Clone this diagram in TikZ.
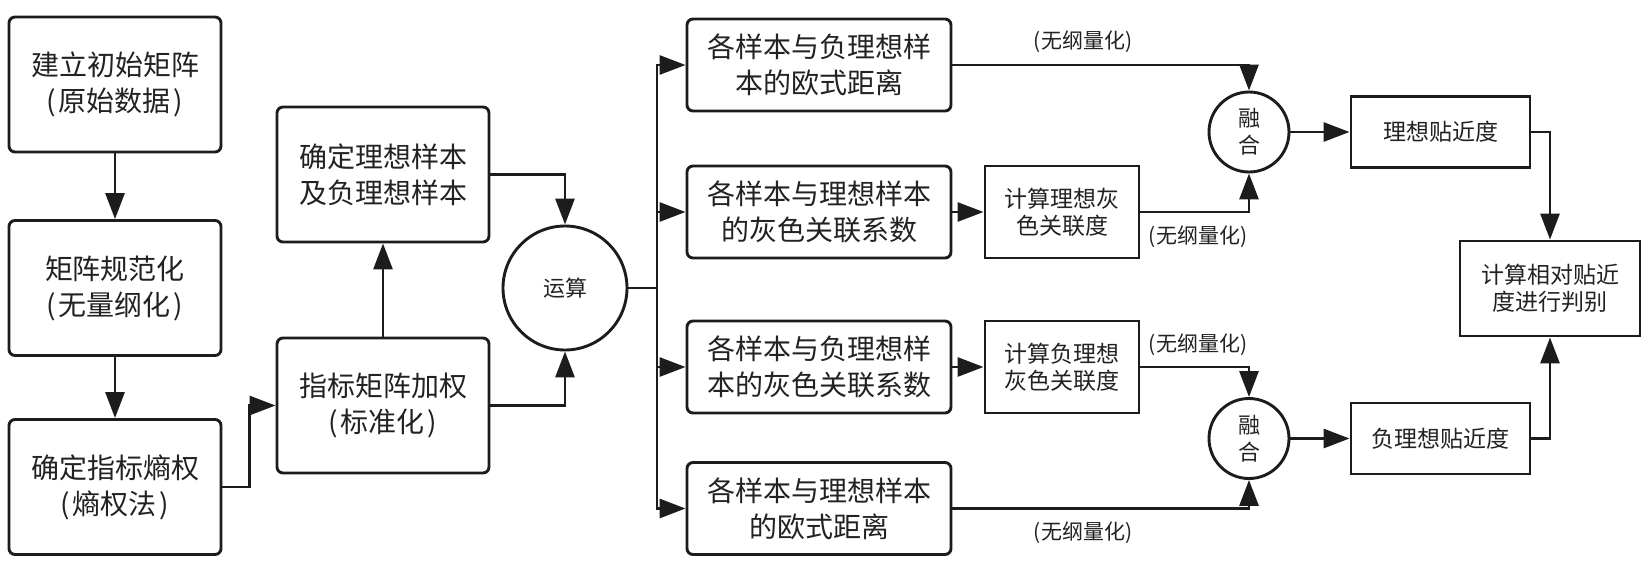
\documentclass[tikz,border=0pt]{standalone}
\usepackage{fontspec}
\setmainfont{Noto Sans CJK SC}
\usetikzlibrary{arrows.meta}
\definecolor{ln}{HTML}{1C1C1C}
\definecolor{txt}{HTML}{222222}
\newcommand{\lp}{(\kern3pt}
\newcommand{\rp}{\kern3pt)}
\begin{document}
\begin{tikzpicture}[x=1pt,y=-1pt,
  bigbox/.style={draw=ln, line width=2.9pt, rounded corners=6pt, minimum width=212pt,
    minimum height=135pt, align=center, inner sep=0pt, text=txt,
    font=\fontsize{28}{36}\selectfont},
  fbox/.style={bigbox, minimum width=264pt, minimum height=92pt},
  sbox/.style={draw=ln, line width=2.9pt, align=center, inner sep=0pt, text=txt,
    font=\fontsize{23}{27}\selectfont},
  circ/.style={circle, draw=ln, line width=2.9pt, inner sep=0pt, align=center, text=txt,
    font=\fontsize{22}{27}\selectfont},
  lbl/.style={text=txt, inner sep=0pt, font=\fontsize{21}{25}\selectfont},
  arr/.style={-{Triangle[length=26pt,width=19pt]}, line width=2.9pt, draw=ln},
  ln/.style={line width=2.9pt, draw=ln}]
\fill[white] (0,0) rectangle (1650,568);
\useasboundingbox (0,0) rectangle (1650,568);

% left column
\node[bigbox] (A) at (115,84.5) {建立初始矩阵\\\lp 原始数据\rp};
\node[bigbox] (B) at (115,288) {矩阵规范化\\\lp 无量纲化\rp};
\node[bigbox] (C) at (115,487) {确定指标熵权\\\lp 熵权法\rp};
\node[bigbox] (D) at (383,174.5) {确定理想样本\\及负理想样本};
\node[bigbox] (E) at (383,405.5) {指标矩阵加权\\\lp 标准化\rp};
\node[circ, minimum size=124pt] (O) at (565,288) {运算};
\coordinate (T) at (657,288);

% F column
\node[fbox] (F1) at (819,65) {各样本与负理想样\\本的欧式距离};
\node[fbox] (F2) at (819,212) {各样本与理想样本\\的灰色关联系数};
\node[fbox] (F3) at (819,367) {各样本与负理想样\\本的灰色关联系数};
\node[fbox] (F4) at (819,508.5) {各样本与理想样本\\的欧式距离};

% G boxes
\node[sbox, minimum width=154pt, minimum height=92pt] (G1) at (1062,212) {计算理想灰\\色关联度};
\node[sbox, minimum width=154pt, minimum height=92pt] (G2) at (1062,367) {计算负理想\\灰色关联度};

% fusion circles
\node[circ, minimum size=80pt] (M1) at (1249,132) {融\\合};
\node[circ, minimum size=80pt] (M2) at (1249,438.5) {融\\合};

% H boxes and J
\node[sbox, minimum width=179pt, minimum height=71pt] (H1) at (1440.5,132) {理想贴近度};
\node[sbox, minimum width=179pt, minimum height=71pt] (H2) at (1440.5,438.5) {负理想贴近度};
\node[sbox, minimum width=180pt, minimum height=95pt] (J) at (1550,288.5) {计算相对贴近\\度进行判别};

% labels
\node[lbl] (L1) at (1083,42) {(无纲量化)};
\node[lbl] (L2) at (1198,237) {(无纲量化)};
\node[lbl] (L3) at (1198,345) {(无纲量化)};
\node[lbl] (L4) at (1083,533) {(无纲量化)};

% connectors
\draw[arr] (A.south) -- (B.north);
\draw[arr] (B.south) -- (C.north);
\draw[arr] (C.east) -- ++(27,0) |- (E.west);
\draw[arr] (E.north) -- (D.south);
\draw[arr] (D.east) -| (O.north);
\draw[arr] (E.east) -| (O.south);
\draw[ln] (O.east) -- (T);
\draw[arr] (T) |- (F1.west);
\draw[arr] (T) |- (F2.west);
\draw[arr] (T) |- (F3.west);
\draw[arr] (T) |- (F4.west);
\draw[arr] (F2.east) -- (G1.west);
\draw[arr] (F3.east) -- (G2.west);
\draw[arr] (F1.east) -| (M1.north);
\draw[arr] (G1.east) -| (M1.south);
\draw[arr] (G2.east) -| (M2.north);
\draw[arr] (F4.east) -| (M2.south);
\draw[arr] (M1.east) -- (H1.west);
\draw[arr] (M2.east) -- (H2.west);
\draw[arr] (H1.east) -| (J.north);
\draw[arr] (H2.east) -| (J.south);
\end{tikzpicture}
\end{document}
